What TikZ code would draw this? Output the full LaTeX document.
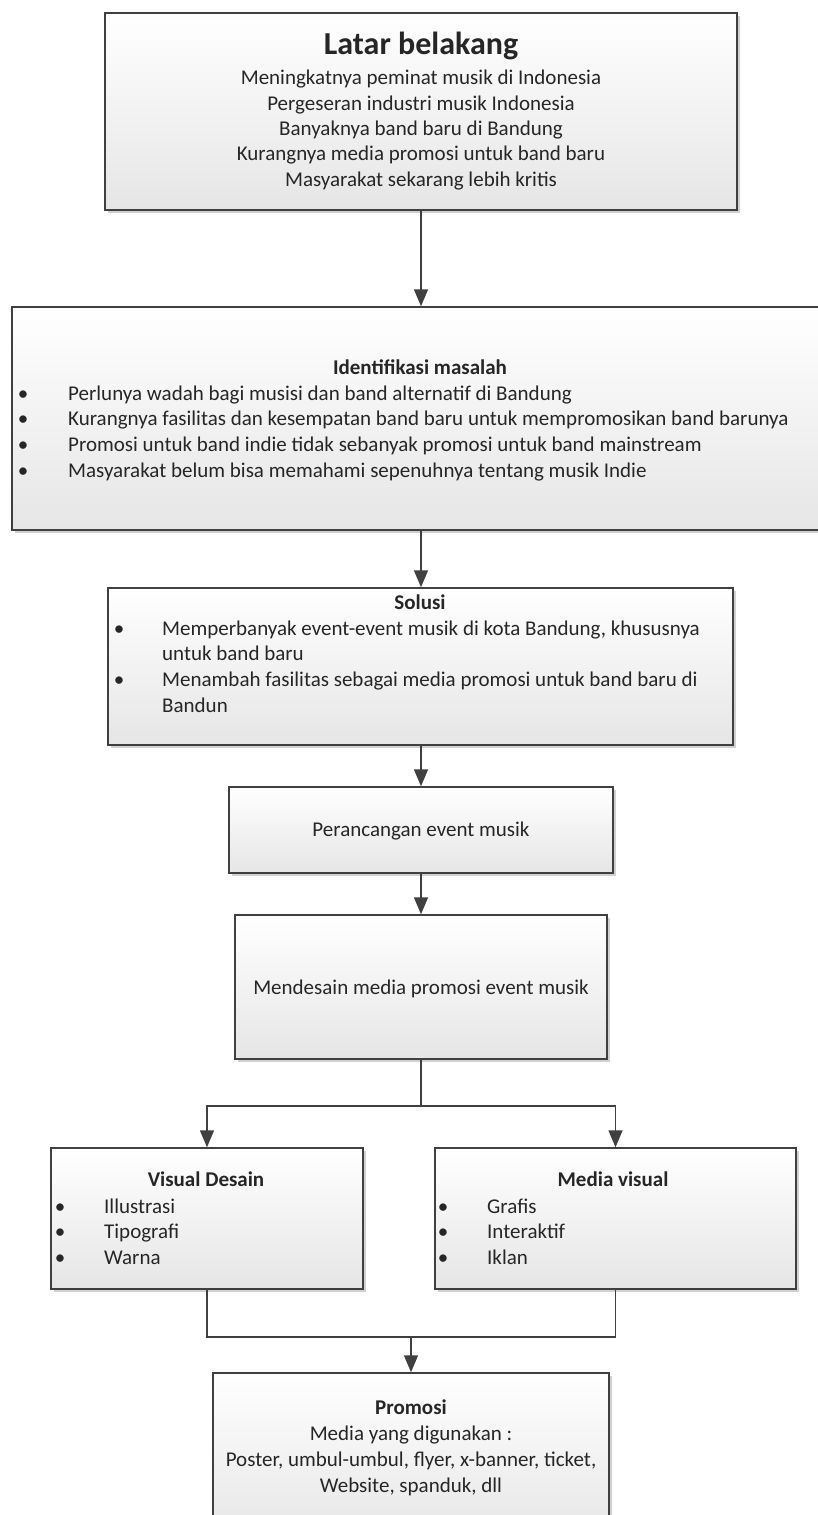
\documentclass[tikz,border=0pt]{standalone}
\usepackage{fontspec}
\setmainfont{Carlito}
\usetikzlibrary{shadows,arrows.meta}
\definecolor{linecol}{HTML}{404040}
\definecolor{txtcol}{HTML}{262626}
\tikzset{
  box/.style={draw=linecol, line width=1.5pt, top color=white, bottom color=black!10,
    drop shadow={shadow xshift=2.5pt, shadow yshift=-3pt, fill=black!40, opacity=.45},
    inner sep=0pt},
  body/.style={font=\fontsize{21}{25.5}\selectfont, text=txtcol, inner sep=0pt, yshift=-5pt},
  head/.style={body, font=\fontsize{21}{25.5}\selectfont\bfseries},
  bigh/.style={body, font=\fontsize{32}{36}\selectfont\bfseries},
  conn/.style={draw=linecol, line width=1.5pt},
  arr/.style={conn, -{Triangle[length=17pt,width=14pt]}},
}
\begin{document}
\begin{tikzpicture}[x=1pt,y=-1pt]
\useasboundingbox (0,0) rectangle (817,1515);
\fill[white] (0,0) rectangle (817,1515);

% Latar belakang
\node[box, minimum width=632pt, minimum height=197pt] (lb) at (421,111.5) {};
\node[bigh, anchor=mid] (lbh) at (421,47) {Latar belakang};
\node[body, anchor=mid] (lb1) at (421,77) {Meningkatnya peminat musik di Indonesia};
\node[body, anchor=mid] (lb2) at (421,103) {Pergeseran industri musik Indonesia};
\node[body, anchor=mid] (lb3) at (421,128) {Banyaknya band baru di Bandung};
\node[body, anchor=mid] (lb4) at (421,153) {Kurangnya media promosi untuk band baru};
\node[body, anchor=mid] (lb5) at (421,179) {Masyarakat sekarang lebih kritis};

% Identifikasi masalah
\node[box, minimum width=818pt, minimum height=223pt] (idm) at (421,418.5) {};
\node[head, anchor=mid] (idh) at (420,367) {Identifikasi masalah};
\node[body, anchor=mid] (idb1) at (23,393) {•};
\node[body, anchor=mid] (idb2) at (23,418) {•};
\node[body, anchor=mid] (idb3) at (23,444) {•};
\node[body, anchor=mid] (idb4) at (23,470) {•};
\node[body, anchor=mid west] (idt1) at (68,393) {Perlunya wadah bagi musisi dan band alternatif di Bandung};
\node[body, anchor=mid west] (idt2) at (68,418) {Kurangnya fasilitas dan kesempatan band baru untuk mempromosikan band barunya};
\node[body, anchor=mid west] (idt3) at (68,444) {Promosi untuk band indie tidak sebanyak promosi untuk band mainstream};
\node[body, anchor=mid west] (idt4) at (68,470) {Masyarakat belum bisa memahami sepenuhnya tentang musik Indie};

% Solusi
\node[box, minimum width=625pt, minimum height=157pt] (sol) at (420.5,666.5) {};
\node[head, anchor=mid] (solh) at (420,602) {Solusi};
\node[body, anchor=mid] (sob1) at (119,628) {•};
\node[body, anchor=mid] (sob2) at (119,679) {•};
\node[body, anchor=mid west] (sot1) at (162,628) {Memperbanyak event-event musik di kota Bandung, khususnya};
\node[body, anchor=mid west] (sot1b) at (162,653) {untuk band baru};
\node[body, anchor=mid west] (sot2) at (162,679) {Menambah fasilitas sebagai media promosi untuk band baru di};
\node[body, anchor=mid west] (sot2b) at (162,705) {Bandun};

% Perancangan
\node[box, minimum width=384pt, minimum height=86pt] (per) at (421,830) {};
\node[body, anchor=mid] (pert) at (421,829) {Perancangan event musik};

% Mendesain
\node[box, minimum width=372pt, minimum height=144pt] (men) at (421,987) {};
\node[body, anchor=mid] (ment) at (421,987) {Mendesain media promosi event musik};

% Visual Desain
\node[box, minimum width=312pt, minimum height=141pt] (vd) at (207,1218.5) {};
\node[head, anchor=mid] (vdh) at (206,1179) {Visual Desain};
\node[body, anchor=mid] (vdb1) at (60,1206) {•};
\node[body, anchor=mid] (vdb2) at (60,1231) {•};
\node[body, anchor=mid] (vdb3) at (60,1257) {•};
\node[body, anchor=mid west] (vdt1) at (104,1206) {Illustrasi};
\node[body, anchor=mid west] (vdt2) at (104,1231) {Tipografi};
\node[body, anchor=mid west] (vdt3) at (104,1257) {Warna};

% Media visual
\node[box, minimum width=361pt, minimum height=141pt] (mv) at (615.5,1218.5) {};
\node[head, anchor=mid] (mvh) at (613,1179) {Media visual};
\node[body, anchor=mid] (mvb1) at (443,1206) {•};
\node[body, anchor=mid] (mvb2) at (443,1231) {•};
\node[body, anchor=mid] (mvb3) at (443,1257) {•};
\node[body, anchor=mid west] (mvt1) at (487,1206) {Grafis};
\node[body, anchor=mid west] (mvt2) at (487,1231) {Interaktif};
\node[body, anchor=mid west] (mvt3) at (487,1257) {Iklan};

% Promosi
\node[box, minimum width=396pt, minimum height=170pt] (pro) at (411,1458) {};
\node[head, anchor=mid] (proh) at (411,1407) {Promosi};
\node[body, anchor=mid] (pro1) at (411,1433) {Media yang digunakan :};
\node[body, anchor=mid] (pro2) at (411,1459) {Poster, umbul-umbul, flyer, x-banner, ticket,};
\node[body, anchor=mid] (pro3) at (411,1485) {Website, spanduk, dll};

% connectors
\draw[arr] (lb.south) -- (idm.north);
\draw[arr] (idm.south -| lb.south) -- (sol.north -| lb.south);
\draw[arr] (sol.south -| lb.south) -- (per.north);
\draw[arr] (per.south) -- (men.north);
\coordinate (sp) at (421,1106);
\draw[conn] (men.south) -- (sp);
\draw[arr] (sp) -| (vd.north);
\draw[arr] (sp) -| (mv.north);
\coordinate (mg) at (411,1337);
\draw[conn] (vd.south) |- (mg);
\draw[conn] (mv.south) |- (mg);
\draw[arr] (mg) -- (pro.north);
\end{tikzpicture}
\end{document}
